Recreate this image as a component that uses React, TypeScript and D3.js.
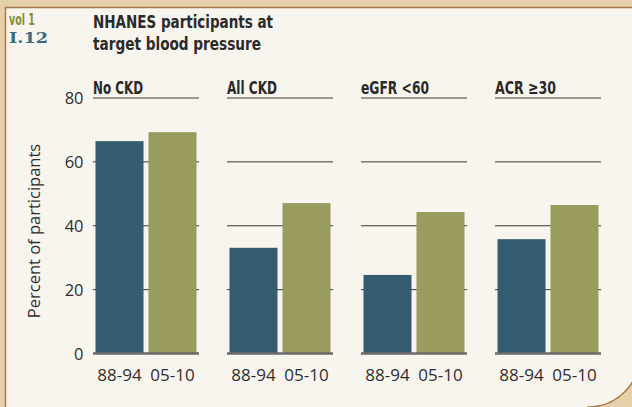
import * as d3 from "d3";

const groups = ["No CKD", "All CKD", "eGFR <60", "ACR \u226530"];
const groupLabelWidths = [50, 50, 68, 61];
const periods = ["88-94", "05-10"];
const values88 = [66.5, 33.1, 24.6, 35.8];
const values05 = [69.3, 47.1, 44.3, 46.5];
const yTicks = [0, 20, 40, 60, 80];

const colors = ["#355d6f", "#9a9c5f"];
const condensed = "'DejaVu Sans Condensed', 'DejaVu Sans', sans-serif";
const regular = "'Open Sans', 'Noto Sans', sans-serif";

export default function App() {
  const width = 632;
  const height = 407;

  const x = d3.scaleBand().domain(groups).range([93, 601]).paddingInner(0.209).paddingOuter(0);
  const xi = d3.scaleBand().domain(periods).range([0, x.bandwidth()]).paddingInner(0.094).paddingOuter(0.047);
  const y = d3.scaleLinear().domain([0, 80]).range([353.5, 98]);

  const rows = groups.map((g, i) => ({ group: g, vals: [values88[i], values05[i]], lw: groupLabelWidths[i] }));

  return (
    <svg width={width} height={height} style={{ position: "fixed", left: 0, top: 0 }}>
      <rect x={0} y={0} width={width} height={height} fill="#e5d0aa" />
      <path
        d="M5.5,420 V7.5 H640 V355 A52,52 0 0 1 588,407 V420 Z"
        fill="#f8f4ee"
        stroke="#a87a4a"
        strokeWidth={1.5}
      />

      <text x={9} y={25} fill="#8a8a3c" fontFamily={condensed} fontSize={15} fontWeight="bold" textLength={26} lengthAdjust="spacingAndGlyphs">vol 1</text>
      <text x={9} y={43} fill="#3d6a80" fontFamily="'DejaVu Serif', serif" fontSize={15} fontWeight="bold" textLength={39} lengthAdjust="spacingAndGlyphs">I.12</text>

      <text fontFamily={condensed} fontSize={18.5} fontWeight="bold" fill="#2a2a2a">
        <tspan x={93} y={28} textLength={180} lengthAdjust="spacingAndGlyphs">NHANES participants at</tspan>
        <tspan x={93} y={50} textLength={168} lengthAdjust="spacingAndGlyphs">target blood pressure</tspan>
      </text>

      {yTicks.map((t) => (
        <text key={t} x={83.5} y={y(t) + 6} textAnchor="end" fontFamily={regular} fontSize={16.5} fill="#2f2f2f">{t}</text>
      ))}
      <text
        transform={`translate(40, 231) rotate(-90)`}
        textAnchor="middle"
        fontFamily={regular}
        fontSize={16.5}
        fill="#2f2f2f"
      >
        Percent of participants
      </text>

      {rows.map((r) => {
        const gx = x(r.group) as number;
        return (
          <g key={r.group} transform={`translate(${gx},0)`}>
            <text x={0} y={94} fontFamily={condensed} fontSize={18} fontWeight="bold" fill="#2a2a2a" textLength={r.lw} lengthAdjust="spacingAndGlyphs">{r.group}</text>
            {yTicks.filter((t) => t > 0).map((t) => (
              <line key={t} x1={0} x2={x.bandwidth()} y1={y(t)} y2={y(t)} stroke="#3a3a3a" strokeWidth={1} />
            ))}
            {r.vals.map((v, j) => (
              <rect
                key={j}
                x={xi(periods[j])}
                y={y(v)}
                width={xi.bandwidth()}
                height={y(0) - y(v)}
                fill={colors[j]}
              />
            ))}
            <line x1={0} x2={x.bandwidth()} y1={y(0)} y2={y(0)} stroke="#6b6b6b" strokeWidth={2.5} />
            {periods.map((p) => (
              <text
                key={p}
                x={(xi(p) as number) + xi.bandwidth() / 2}
                y={381}
                textAnchor="middle"
                fontFamily={regular}
                fontSize={17}
                fill="#2f2f2f"
              >
                {p}
              </text>
            ))}
          </g>
        );
      })}
    </svg>
  );
}
